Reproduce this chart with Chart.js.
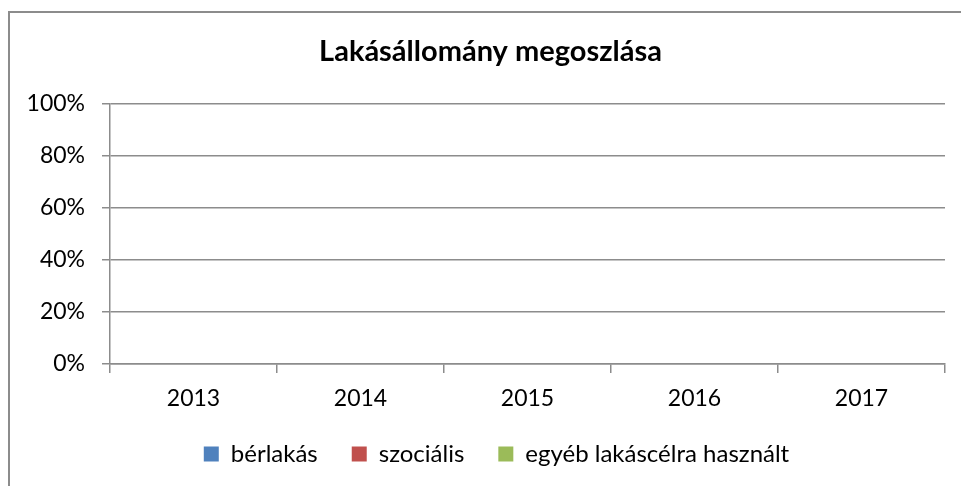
<!DOCTYPE html>
<html>
<head>
<meta charset="utf-8">
<script src="https://cdn.jsdelivr.net/npm/chart.js@4"></script>
<style>
    html, body { margin: 0; padding: 0; background: #fff; overflow: hidden; }
    #wrap { position: relative; width: 961px; height: 486px; }
    #frame { position: absolute; left: 8px; top: 11px; width: 980px; height: 500px; border: 2px solid #8c8c8c; box-sizing: border-box; }
    #chart { position: absolute; left: 0; top: 0; }
</style>
</head>
<body>
<div id="wrap">
    <div id="frame"></div>
    <canvas id="chart" width="961" height="486"></canvas>
</div>
<script>
// Adatok (a diagram üres, minden érték 0)
const evek = ['2013', '2014', '2015', '2016', '2017'];
const berlakas = [0, 0, 0, 0, 0];
const szocialis = [0, 0, 0, 0, 0];
const egyeb = [0, 0, 0, 0, 0];

const szurke = '#8c8c8c';
const betu = 'Lato, "Open Sans", sans-serif';

// A címet és a jelmagyarázatot kicsit jobbra toljuk, mint az eredetin
const eltolas = {
    id: 'eltolas',
    afterLayout: function(chart) {
        chart.legend.left += 24;
        chart.legend.right += 24;
        chart.titleBlock.left += 18;
        chart.titleBlock.right += 18;
    },
};

const config = {
    type: 'bar',
    data: {
        labels: evek,
        datasets: [
            { label: 'bérlakás', data: berlakas, backgroundColor: '#4f81bd' },
            { label: 'szociális', data: szocialis, backgroundColor: '#c0504d' },
            { label: 'egyéb lakáscélra használt', data: egyeb, backgroundColor: '#9bbb59' },
        ],
    },
    options: {
        responsive: false,
        animation: false,
        layout: { padding: { left: 0, right: 16, top: 0, bottom: 10 } },
        plugins: {
            tooltip: { enabled: false },
            title: {
                display: true,
                text: 'Lakásállomány megoszlása',
                color: '#000',
                font: { family: betu, size: 29, weight: 'bold' },
                padding: { top: 34, bottom: 35 },
            },
            legend: {
                position: 'bottom',
                labels: {
                    color: '#000',
                    font: { family: betu, size: 24 },
                    boxWidth: 15,
                    boxHeight: 15,
                    padding: 34,
                },
            },
        },
        scales: {
            x: {
                stacked: true,
                grid: {
                    display: true,
                    offset: true,
                    drawOnChartArea: false,
                    drawTicks: true,
                    tickLength: 9,
                    color: szurke,
                    lineWidth: 1.5,
                },
                border: { display: true, color: szurke, width: 1.5 },
                ticks: { color: '#000', font: { family: betu, size: 23 }, padding: 12 },
                afterFit: function(scale) { scale.height = 44; },
            },
            y: {
                stacked: true,
                min: 0,
                max: 100,
                grid: { color: szurke, lineWidth: 1.5, tickLength: 8 },
                border: { display: true, color: szurke, width: 1.5 },
                ticks: {
                    stepSize: 20,
                    color: '#000',
                    font: { family: betu, size: 23 },
                    padding: 17,
                    callback: function(v) { return v + '%'; },
                },
                afterFit: function(scale) { scale.width = 110; },
            },
        },
    },
    plugins: [eltolas],
};

const ctx = document.getElementById('chart').getContext('2d');
new Chart(ctx, config);
</script>
</body>
</html>
